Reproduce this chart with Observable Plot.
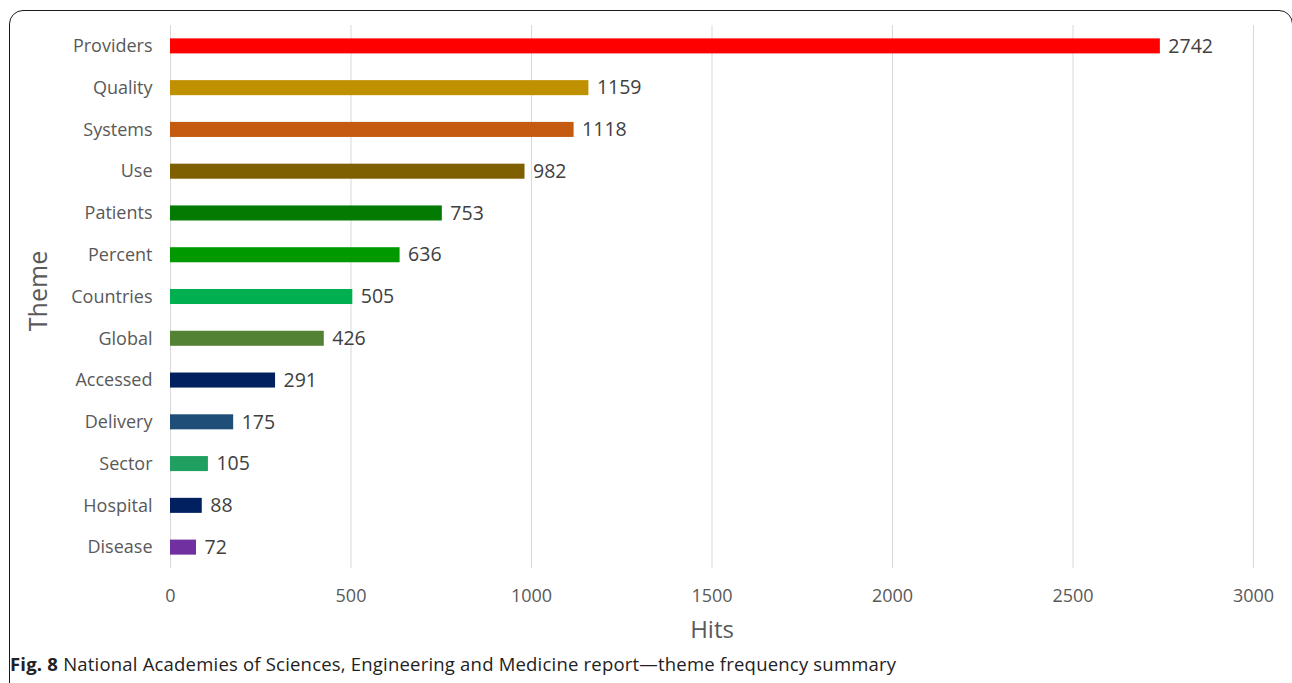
<!DOCTYPE html>
<html>
<head>
<meta charset="utf-8">
<script src="https://cdn.jsdelivr.net/npm/d3@7"></script>
<script src="https://cdn.jsdelivr.net/npm/@observablehq/plot@0.6"></script>
<style>
  html, body { margin: 0; padding: 0; background: #fff; }
  #wrap { position: relative; width: 1292px; height: 683px; overflow: hidden; }
  #frame { position: absolute; left: 9px; top: 10px; width: 1284px; height: 700px;
           border: 1.6px solid #1a1a1a; border-radius: 14px; box-sizing: border-box; }
  #chart { position: absolute; left: 0; top: 0; }
  #caption { position: absolute; left: 10px; top: 651px; font-family: "Open Sans", sans-serif;
             font-size: 18.5px; color: #222; white-space: nowrap; letter-spacing: 0.2px; }
  #caption b { font-weight: 700; }
</style>
</head>
<body>
<div id="wrap">
  <div id="frame"></div>
  <div id="chart"></div>
  <div id="caption"><b>Fig. 8</b> National Academies of Sciences, Engineering and Medicine report—theme frequency summary</div>
</div>
<script>
const themes = ["Providers","Quality","Systems","Use","Patients","Percent","Countries","Global","Accessed","Delivery","Sector","Hospital","Disease"];
const hits = [2742,1159,1118,982,753,636,505,426,291,175,105,88,72];
const colors = ["#FF0000","#BF9000","#C55A11","#7F6000","#037A02","#009900","#00B050","#548235","#002060","#1F4E79","#1FA060","#002060","#7030A0"];
const xTicks = [0,500,1000,1500,2000,2500,3000];

const data = themes.map((t, i) => ({theme: t, hits: hits[i], color: colors[i]}));

const chart = Plot.plot({
  width: 1292,
  height: 650,
  marginLeft: 170,
  marginRight: 39,
  marginTop: 25,
  marginBottom: 82,
  style: {fontFamily: "'Open Sans', sans-serif", fontSize: "18px", color: "#595959", background: "transparent"},
  x: {domain: [0, 3000], ticks: xTicks, tickSize: 0, tickPadding: 22, label: null},
  y: {domain: themes, paddingInner: 0.64, paddingOuter: 0.32, round: false, tickSize: 0, tickPadding: 18, label: null},
  marks: [
    Plot.ruleX(xTicks, {stroke: "#d9d9d9", strokeWidth: 1}),
    Plot.barX(data, {x: "hits", y: "theme", fill: "color"}),
    Plot.text(data, {x: "hits", y: "theme", text: d => String(d.hits), textAnchor: "start", dx: 8, fill: "#404040", fontSize: 19.5}),
    Plot.axisX({ticks: xTicks, tickSize: 0, tickPadding: 21, tickFormat: d => String(d), label: null, fill: "#595959", fontSize: 18}),
    Plot.axisY({tickSize: 0, tickPadding: 18, label: null, fill: "#595959", fontSize: 18}),
    Plot.text(["Hits"], {frameAnchor: "bottom", lineAnchor: "middle", textAnchor: "middle", dy: 62, fontSize: 24, fill: "#595959"}),
    Plot.text(["Theme"], {frameAnchor: "left", textAnchor: "middle", lineAnchor: "middle", dx: -132, dy: -6, rotate: -90, fontSize: 25, fill: "#595959"})
  ]
});
document.getElementById("chart").appendChild(chart);
</script>
</body>
</html>
